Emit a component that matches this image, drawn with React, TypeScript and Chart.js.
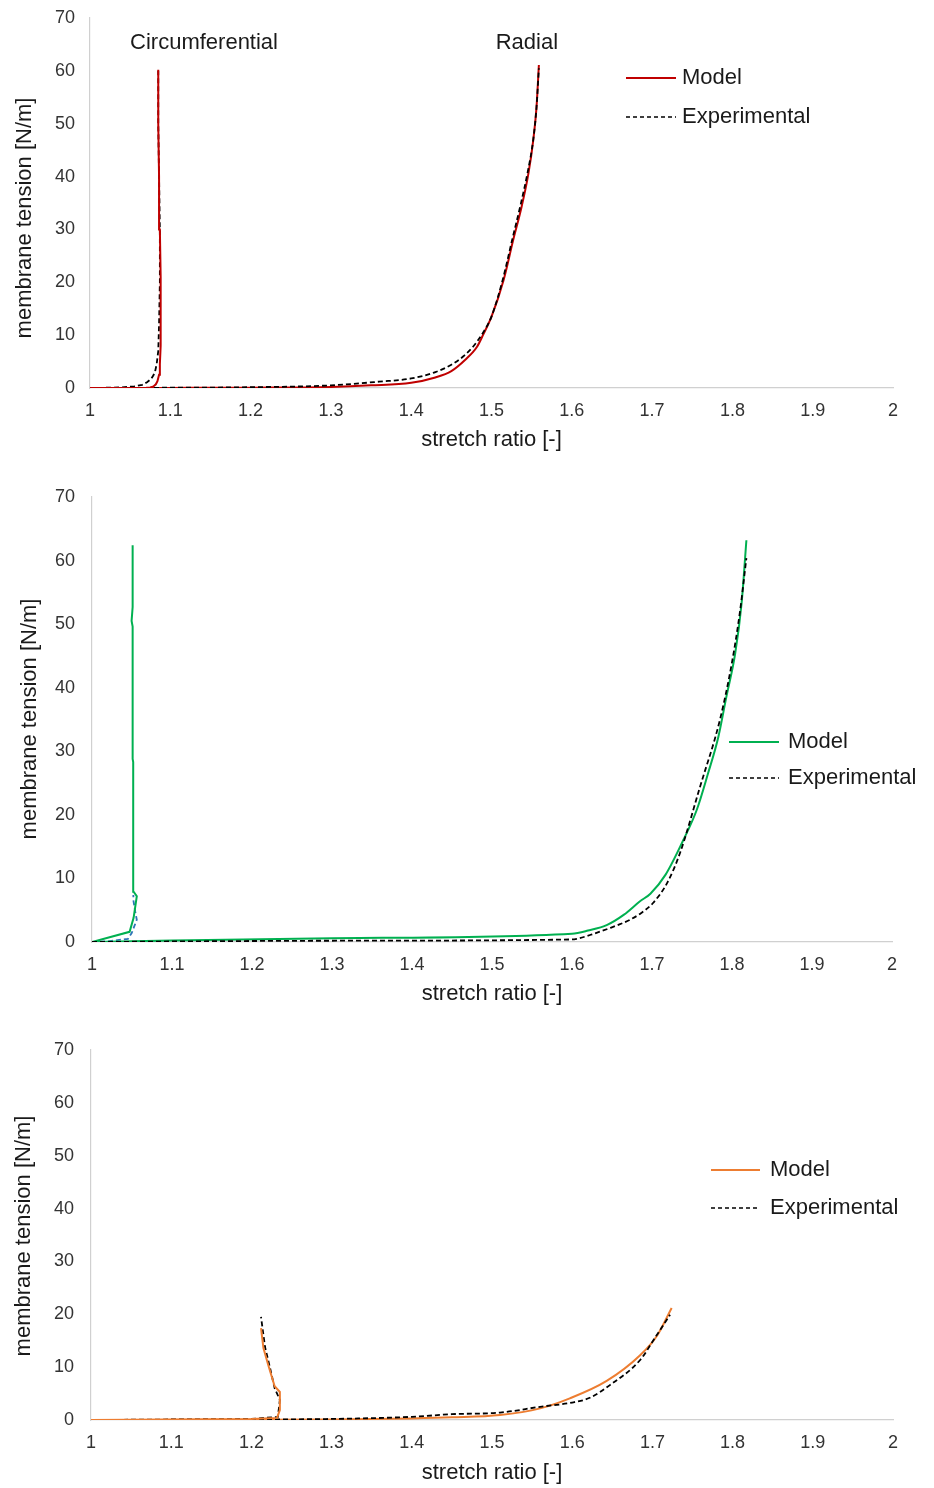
import React, { useEffect, useRef } from 'react';
import { Chart, registerables } from 'chart.js';
Chart.register(...registerables);

const FONT = "'Liberation Sans', Arial, sans-serif";

const X_TICK_LABELS = ['1', '1.1', '1.2', '1.3', '1.4', '1.5', '1.6', '1.7', '1.8', '1.9', '2'];
const Y_TICK_LABELS = ['0', '10', '20', '30', '40', '50', '60', '70'];
const X_TITLE = 'stretch ratio [-]';
const Y_TITLE = 'membrane tension [N/m]';
const LEGEND_LABELS = ['Model', 'Experimental'];

// ---------- Panel 1 (red) ----------
const p1CircModelX = [1, 1.04, 1.06, 1.07, 1.075, 1.079, 1.082, 1.084, 1.086, 1.087, 1.088, 1.088, 1.088, 1.087, 1.086, 1.085, 1.085];
const p1CircModelY = [0, 0, 0, 0.03, 0.1, 0.3, 0.7, 1.3, 2.5, 4.5, 8, 14, 21, 30, 40, 50, 60.2];
const p1CircExpX = [1, 1.02, 1.04, 1.055, 1.065, 1.071, 1.076, 1.079, 1.081, 1.083, 1.085, 1.086, 1.087, 1.087, 1.086, 1.085, 1.085];
const p1CircExpY = [0, 0.05, 0.13, 0.3, 0.6, 1.1, 1.7, 2.4, 3.1, 4.5, 7, 12, 20, 30, 40, 50, 60];
const p1RadModelX = [1, 1.1, 1.2, 1.3, 1.35, 1.4, 1.43, 1.45, 1.467, 1.482, 1.49, 1.5, 1.515, 1.527, 1.5375, 1.546, 1.552, 1.556, 1.559];
const p1RadModelY = [0, 0.02, 0.06, 0.2, 0.5, 1.0, 2.0, 3.2, 5.3, 7.8, 10.2, 13.5, 20.4, 28, 34.3, 40.6, 46.9, 53, 61.1];
const p1RadExpX = [1, 1.1, 1.2, 1.3, 1.36, 1.4, 1.43, 1.45, 1.465, 1.478, 1.49, 1.5, 1.514, 1.526, 1.536, 1.545, 1.552, 1.556, 1.559];
const p1RadExpY = [0, 0.05, 0.15, 0.5, 1.2, 1.8, 3.0, 4.4, 6.0, 8.0, 10.6, 13.5, 20.5, 28.2, 34.5, 40.8, 47, 53, 60.5];
const p1Notes = ['Circumferential', 'Radial'];
const p1NotesX = [1.142, 1.544];
const p1NotesY = [65.3, 65.3];

// ---------- Panel 2 (green) ----------
const p2CircModelX = [1, 1.047, 1.052, 1.056, 1.052, 1.0515, 1.0515, 1.0508, 1.0508, 1.0495, 1.0508, 1.0508];
const p2CircModelY = [0, 1.6, 3.8, 7.2, 7.9, 15, 28.3, 28.8, 49.6, 50.5, 52.7, 62.4];
const p2CircExpX = [1, 1.02, 1.045, 1.0496, 1.056, 1.054, 1.0517, 1.0517];
const p2CircExpY = [0, 0.1, 0.5, 1.4, 3.5, 4.8, 6.6, 7.4];
const p2RadModelX = [1, 1.3, 1.6, 1.62, 1.644, 1.665, 1.685, 1.698, 1.717, 1.739, 1.756, 1.77, 1.783, 1.793, 1.804, 1.812, 1.818];
const p2RadModelY = [0, 0.6, 1.3, 1.8, 2.7, 4.3, 6.4, 7.6, 10.6, 16.0, 20.8, 26.5, 32.3, 38.6, 45.4, 53.3, 63.2];
const p2RadExpX = [1, 1.3, 1.6, 1.606, 1.625, 1.6475, 1.66, 1.6725, 1.687, 1.701, 1.719, 1.735, 1.76, 1.785, 1.8, 1.81, 1.818];
const p2RadExpY = [0, 0.2, 0.4, 0.5, 1.2, 2.2, 2.8, 3.5, 4.6, 6.1, 9.3, 14, 24.4, 35, 44, 52, 60.4];

// ---------- Panel 3 (orange) ----------
const p3CircModelX = [1, 1.1, 1.2, 1.232, 1.2355, 1.2355, 1.229, 1.221, 1.215, 1.212];
const p3CircModelY = [0, 0.1, 0.2, 0.4, 1.9, 5.3, 6.4, 10.4, 13.6, 17.4];
const p3CircExpX = [1, 1.1, 1.2, 1.233, 1.2355, 1.229, 1.223, 1.217, 1.212];
const p3CircExpY = [0, 0.1, 0.2, 0.6, 3.8, 6, 10, 13.8, 19.5];
const p3RadModelX = [1, 1.2, 1.3, 1.4, 1.45, 1.51, 1.56, 1.597, 1.643, 1.685, 1.706, 1.724];
const p3RadModelY = [0, 0.05, 0.1, 0.3, 0.5, 0.95, 2.2, 4.1, 7.4, 12.3, 16, 21.2];
const p3RadExpX = [1, 1.2, 1.3, 1.4, 1.45, 1.51, 1.56, 1.6, 1.622, 1.647, 1.685, 1.703, 1.722];
const p3RadExpY = [0, 0.1, 0.2, 0.6, 1.1, 1.4, 2.5, 3.3, 4.2, 6.6, 11.4, 15.5, 19.9];

const RED = '#c00000';
const GREEN = '#00b050';
const ORANGE = '#ed7d31';
const BLUE = '#2e75b6';
const BLACK = '#000000';

const zip = (xs: number[], ys: number[]) => xs.map((x, i) => ({ x, y: ys[i] }));

type Series = { label: string; xs: number[]; ys: number[]; color: string; dashed: boolean; smooth: boolean };

type PanelCfg = {
  top: number;
  height: number;
  area: { left: number; right: number; top: number; bottom: number };
  series: Series[];
  modelColor: string;
  legend: { x0: number; x1: number; tx: number; y1: number; y2: number };
  yTitle: { x: number; y: number };
  xTitlePad: number;
  yTickPad: number;
  xTickPad: number;
  notes?: { text: string; x: number; y: number }[];
};

const W = 934;

const panels: PanelCfg[] = [
  {
    top: 0,
    height: 460,
    area: { left: 90, right: 893, top: 18, bottom: 388 },
    series: [
      { label: 'Model', xs: p1CircModelX, ys: p1CircModelY, color: RED, dashed: false, smooth: false },
      { label: 'Experimental', xs: p1CircExpX, ys: p1CircExpY, color: BLACK, dashed: true, smooth: false },
      { label: 'Experimental', xs: p1RadExpX, ys: p1RadExpY, color: BLACK, dashed: true, smooth: true },
      { label: 'Model', xs: p1RadModelX, ys: p1RadModelY, color: RED, dashed: false, smooth: true },
    ],
    modelColor: RED,
    legend: { x0: 626, x1: 676, tx: 682, y1: 78, y2: 117 },
    yTitle: { x: 25, y: 218 },
    xTitlePad: 6.8,
    yTickPad: 15,
    xTickPad: 12,
    notes: p1Notes.map((t, i) => ({ text: t, x: p1NotesX[i], y: p1NotesY[i] })),
  },
  {
    top: 470,
    height: 550,
    area: { left: 92, right: 892, top: 27, bottom: 472 },
    series: [
      { label: 'Experimental', xs: p2RadExpX, ys: p2RadExpY, color: BLACK, dashed: true, smooth: true },
      { label: 'Model', xs: p2RadModelX, ys: p2RadModelY, color: GREEN, dashed: false, smooth: true },
      { label: 'Model', xs: p2CircModelX, ys: p2CircModelY, color: GREEN, dashed: false, smooth: false },
      { label: 'Experimental', xs: p2CircExpX, ys: p2CircExpY, color: BLUE, dashed: true, smooth: false },
    ],
    modelColor: GREEN,
    legend: { x0: 729, x1: 779, tx: 788, y1: 272, y2: 308 },
    yTitle: { x: 30, y: 249 },
    xTitlePad: 12.8,
    yTickPad: 17,
    xTickPad: 12,
  },
  {
    top: 1030,
    height: 458,
    area: { left: 91, right: 893, top: 20, bottom: 390 },
    series: [
      { label: 'Model', xs: p3CircModelX, ys: p3CircModelY, color: ORANGE, dashed: false, smooth: false },
      { label: 'Experimental', xs: p3CircExpX, ys: p3CircExpY, color: BLACK, dashed: true, smooth: false },
      { label: 'Experimental', xs: p3RadExpX, ys: p3RadExpY, color: BLACK, dashed: true, smooth: true },
      { label: 'Model', xs: p3RadModelX, ys: p3RadModelY, color: ORANGE, dashed: false, smooth: true },
    ],
    modelColor: ORANGE,
    legend: { x0: 711, x1: 760, tx: 770, y1: 140, y2: 178 },
    yTitle: { x: 24, y: 206 },
    xTitlePad: 1.8,
    yTickPad: 17,
    xTickPad: 12,
  },
];

function Panel({ cfg }: { cfg: PanelCfg }) {
  const ref = useRef<HTMLCanvasElement | null>(null);
  useEffect(() => {
    if (!ref.current) return;
    const { area, height } = cfg;
    const overlay = {
      id: 'overlay',
      afterDraw(chart: any) {
        const ctx = chart.ctx as CanvasRenderingContext2D;
        ctx.save();
        const L = cfg.legend;
        ctx.lineWidth = 2;
        ctx.strokeStyle = cfg.modelColor;
        ctx.setLineDash([]);
        ctx.beginPath();
        ctx.moveTo(L.x0, L.y1);
        ctx.lineTo(L.x1, L.y1);
        ctx.stroke();
        ctx.strokeStyle = BLACK;
        ctx.lineWidth = 1.5;
        ctx.setLineDash([4, 3]);
        ctx.beginPath();
        ctx.moveTo(L.x0, L.y2);
        ctx.lineTo(L.x1, L.y2);
        ctx.stroke();
        ctx.setLineDash([]);
        ctx.fillStyle = '#1a1a1a';
        ctx.font = `22px ${FONT}`;
        ctx.textBaseline = 'middle';
        ctx.textAlign = 'left';
        ctx.fillText(LEGEND_LABELS[0], L.tx, L.y1);
        ctx.fillText(LEGEND_LABELS[1], L.tx, L.y2);
        if (cfg.notes) {
          ctx.textAlign = 'center';
          const xs = chart.scales.x;
          const ys = chart.scales.y;
          cfg.notes.forEach((n) => {
            ctx.fillText(n.text, xs.getPixelForValue(n.x), ys.getPixelForValue(n.y));
          });
        }
        // y axis title
        ctx.save();
        ctx.translate(cfg.yTitle.x, cfg.yTitle.y);
        ctx.rotate(-Math.PI / 2);
        ctx.textAlign = 'center';
        ctx.textBaseline = 'middle';
        ctx.fillText(Y_TITLE, 0, 0);
        ctx.restore();
        ctx.restore();
      },
    };
    const chart = new Chart(ref.current, {
      type: 'scatter',
      data: {
        datasets: cfg.series.map((s) => ({
          label: s.label,
          data: zip(s.xs, s.ys),
          showLine: true,
          borderColor: s.color,
          backgroundColor: s.color,
          borderWidth: s.dashed ? 1.8 : 2,
          borderDash: s.dashed ? [5, 3] : [],
          pointRadius: 0,
          pointHoverRadius: 0,
          tension: 0,
          cubicInterpolationMode: s.smooth ? 'monotone' : 'default',
          fill: false,
        })),
      },
      options: {
        animation: false,
        responsive: false,
        devicePixelRatio: 1,
        events: [],
        layout: { padding: { top: area.top, right: W - area.right, left: 0, bottom: 0 } },
        plugins: { legend: { display: false }, tooltip: { enabled: false }, title: { display: false } },
        scales: {
          x: {
            type: 'linear',
            min: 1,
            max: 2,
            afterFit: (s: any) => {
              s.height = height - area.bottom;
              s.paddingLeft = 0;
              s.paddingRight = 0;
            },
            afterBuildTicks: (s: any) => { s.ticks = X_TICK_LABELS.map((t) => ({ value: parseFloat(t) })); },
            ticks: {
              autoSkip: false,
              maxRotation: 0,
              padding: cfg.xTickPad,
              color: '#333333',
              font: { family: FONT, size: 18 },
              callback: (_v: any, i: number) => X_TICK_LABELS[i],
            },
            grid: { display: false, drawTicks: false },
            border: { display: true, color: '#d0d0d0', width: 1.2 },
            title: {
              display: true,
              text: X_TITLE,
              color: '#1a1a1a',
              font: { family: FONT, size: 22 },
              padding: { top: 0, bottom: cfg.xTitlePad },
            },
          },
          y: {
            type: 'linear',
            min: 0,
            max: 70,
            afterFit: (s: any) => {
              s.width = area.left;
              s.paddingTop = 0;
              s.paddingBottom = 0;
            },
            afterBuildTicks: (s: any) => { s.ticks = Y_TICK_LABELS.map((t) => ({ value: parseFloat(t) })); },
            ticks: {
              padding: cfg.yTickPad,
              color: '#333333',
              font: { family: FONT, size: 18 },
              callback: (_v: any, i: number) => Y_TICK_LABELS[i],
            },
            grid: { display: false, drawTicks: false },
            border: { display: true, color: '#d0d0d0', width: 1.2 },
            title: { display: false },
          },
        },
      },
      plugins: [overlay],
    } as any);
    return () => chart.destroy();
  }, [cfg]);
  return (
    <canvas
      ref={ref}
      width={W}
      height={cfg.height}
      style={{ position: 'absolute', left: 0, top: cfg.top, width: W, height: cfg.height, display: 'block' }}
    />
  );
}

export default function App() {
  return (
    <div style={{ position: 'absolute', left: 0, top: 0, width: W, height: 1488, background: '#ffffff' }}>
      {panels.map((p, i) => (
        <Panel key={i} cfg={p} />
      ))}
    </div>
  );
}
